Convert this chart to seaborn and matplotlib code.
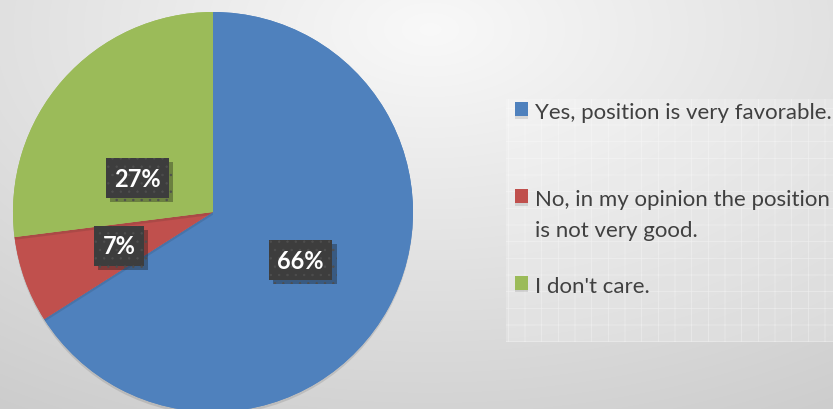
import numpy as np
import matplotlib
matplotlib.use("Agg")
import matplotlib.pyplot as plt
import matplotlib.patheffects as pe
from matplotlib.patches import Rectangle
import seaborn as sns

# survey answers and their shares (%)
answers = ["Yes, position is very favorable.",
           "No, in my opinion the position\nis not very good.",
           "I don't care."]
shares = [66, 7, 27]
colors = ["#4f81bd", "#c0504d", "#9bbb59"]

sns.set_theme(style="white")
plt.rcParams['font.family'] = ['Lato', 'DejaVu Sans']
plt.rcParams['hatch.linewidth'] = 0.5

fig = plt.figure(figsize=(8.33, 4.10), dpi=100)

# soft grey background gradient
bg = fig.add_axes([0, 0, 1, 1], zorder=-10)
yy, xx = np.mgrid[0:410, 0:833]
d = np.hypot((xx - 430) / 900, (yy - 30) / 520)
g = np.clip(0.975 - 0.2 * d, 0, 1)
bg.imshow(np.dstack([g, g, g]), aspect='auto', interpolation='bilinear')
bg.axis('off')

# legend panel
fig.patches.append(Rectangle((506 / 833, 1 - 343 / 410), 1 - 506 / 833, 243 / 410,
                             transform=fig.transFigure, facecolor=(1, 1, 1, 0.2),
                             edgecolor=(1, 1, 1, 0.4), hatch='+', linewidth=0, zorder=-5))

ax = fig.add_axes([13 / 833, -3 / 410, 400 / 833, 400 / 410])
wedges, _, pcts = ax.pie(shares, colors=colors, startangle=90, counterclock=False,
                         radius=1, autopct=lambda p: f"{p:.0f}%", pctdistance=0.5,
                         wedgeprops=dict(linewidth=0),
                         textprops=dict(color='white', fontsize=17, fontweight='bold'))
for w in wedges:
    w.set_path_effects([pe.withSimplePatchShadow(offset=(0, -2), shadow_rgbFace='k', alpha=0.12),
                        pe.Normal()])
ax.set_xlim(-1, 1)
ax.set_ylim(-1, 1)

# green label sits a bit lower, like the original
ang = np.deg2rad(156)
pcts[2].set_position((0.414 * np.cos(ang), 0.414 * np.sin(ang)))

for t in pcts:
    t.set_bbox(dict(boxstyle='square,pad=0.36', facecolor='#3d3d3d', edgecolor='#4e4e4e',
                    hatch='..', linewidth=0))
    t.get_bbox_patch().set_path_effects([pe.withSimplePatchShadow(offset=(3, -3), alpha=0.35),
                                         pe.Normal()])

labels = [answers[0] + "\n", answers[1], answers[2]]
leg = fig.legend(wedges, labels, loc='upper left', bbox_to_anchor=(515 / 833, 1 - 103 / 410),
                 frameon=False, fontsize=16, handlelength=0.6, handleheight=0.6,
                 handletextpad=0.3, labelspacing=1.6, labelcolor='#404040',
                 borderpad=0, borderaxespad=0)
for t in leg.get_texts():
    t.set_linespacing(1.7)
for col in leg._legend_handle_box.get_children():
    for item in col.get_children():
        item.align = 'top'

fig.savefig("out.png", dpi=100)
